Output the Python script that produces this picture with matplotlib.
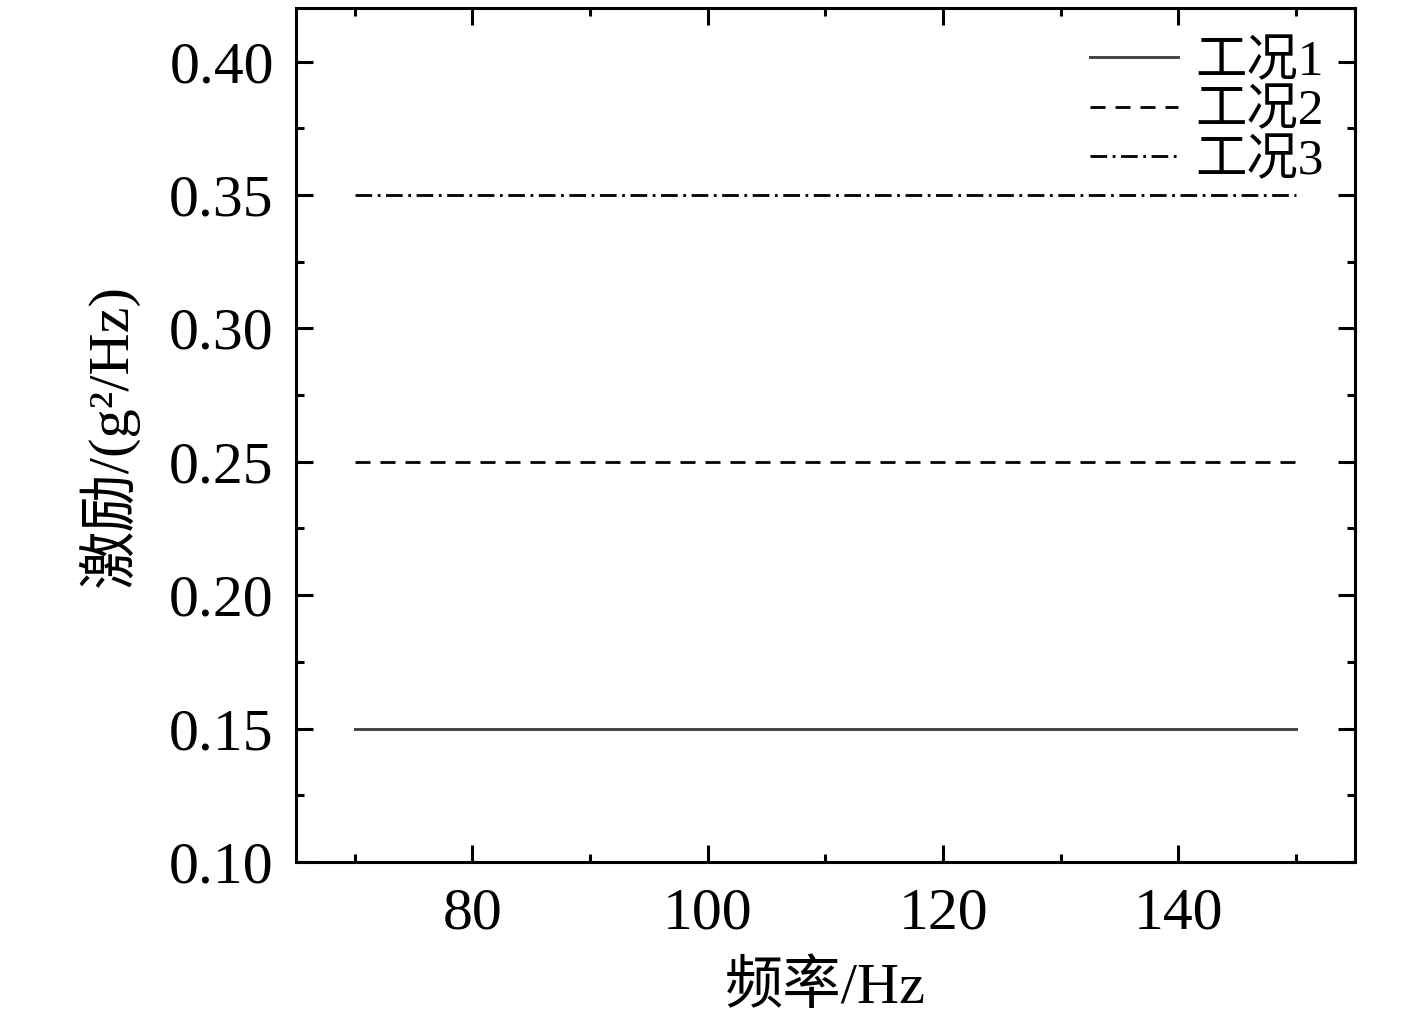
import matplotlib
matplotlib.use("Agg")
import matplotlib.pyplot as plt
from matplotlib.ticker import MultipleLocator

plt.rcParams['font.family'] = ['Liberation Serif', 'Noto Sans CJK SC']

freq = [70, 150]
case1 = [0.15, 0.15]
case2 = [0.25, 0.25]
case3 = [0.35, 0.35]
labels = ['工况1', '工况2', '工况3']

fig = plt.figure(figsize=(14.17, 10.25), dpi=100)
ax = fig.add_axes([0.2089, 0.159, 0.7473, 0.833])

ax.plot(freq, case1, color='#3d454c', lw=2.1, ls='-', label=labels[0])
ax.plot(freq, case2, color='black', lw=2.0, ls=(0, (5.4, 3.6)), label=labels[1])
ax.plot(freq, case3, color='black', lw=2.0, ls=(0, (6, 2, 1, 2)), label=labels[2])

ax.set_xlim(65, 155)
ax.set_ylim(0.10, 0.42)
ax.xaxis.set_major_locator(MultipleLocator(20))
ax.xaxis.set_minor_locator(MultipleLocator(10))
ax.yaxis.set_major_locator(MultipleLocator(0.05))
ax.yaxis.set_minor_locator(MultipleLocator(0.025))
ax.yaxis.set_major_formatter(plt.FuncFormatter(lambda v, p: f'{v:.2f}'))

for s in ax.spines.values():
    s.set_linewidth(2.2)
ax.tick_params(which='both', direction='in', top=True, right=True, width=2.2, labelsize=43)
ax.tick_params(which='major', length=12)
ax.tick_params(which='minor', length=6)
ax.tick_params(axis='x', pad=18)
ax.tick_params(axis='y', pad=16)

ax.set_xlabel('频率/Hz', fontsize=42, labelpad=14)
ax.set_ylabel('激励/(g²/Hz)', fontsize=42, labelpad=22)

leg = ax.legend(loc='upper right', frameon=False, fontsize=37, handlelength=1.7,
                handletextpad=0.35, labelspacing=0.05, borderaxespad=0.2)

fig.savefig('out.png', dpi=100)
